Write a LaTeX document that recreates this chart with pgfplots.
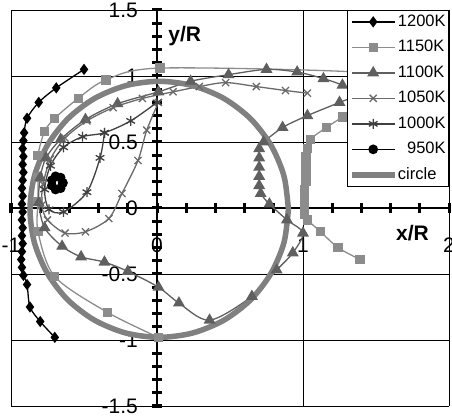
\documentclass[border=0pt]{standalone}
\usepackage{fontspec}
\setmainfont{Liberation Sans}
\usepackage{pgfplots}
\pgfplotsset{compat=1.18}
\definecolor{cA}{HTML}{8C8C8C}
\definecolor{cB}{HTML}{5F5F5F}
\definecolor{cC}{HTML}{6A6A6A}
\definecolor{cD}{HTML}{404040}
\definecolor{cE}{HTML}{808080}
\begin{document}
\begin{tikzpicture}
\useasboundingbox (0,0) rectangle (452bp,420bp);
\begin{axis}[
  at={(11bp,14bp)}, anchor=south west,
  scale only axis, width=438bp, height=396bp,
  xmin=-1, xmax=2, ymin=-1.5, ymax=1.5,
  axis lines=middle,
  axis line style={-, line width=2.5bp, black},
  xtick={-1,0,1,2}, ytick={-1.5,-1,-0.5,0,0.5,1,1.5},
  minor x tick num=4, minor y tick num=4,
  tick align=center, major tick length=10bp, minor tick length=10bp,
  tick style={black, line width=3bp},
  grid=major, grid style={black, line width=0.7bp},
  hide obscured x ticks=false, hide obscured y ticks=false,
  /pgf/number format/assume math mode=true,
  tick label style={font=\fontsize{21bp}{21bp}\selectfont},
  xticklabel style={anchor=center, inner sep=0pt, yshift=-32bp},
  yticklabel style={anchor=east, inner sep=0pt, xshift=-14bp},
  legend style={at={(rel axis cs:1,1)}, anchor=north east, draw=black, line width=0.7bp, fill=white,
    font=\fontsize{16.5bp}{16.5bp}\selectfont, inner xsep=2bp, inner ysep=3bp, row sep=8.5bp,
    nodes={text height=12bp, text depth=3bp, inner ysep=1bp, inner xsep=1bp}},
  legend cell align=left,
  legend image code/.code={\draw[mark repeat=2,mark phase=2,#1] plot coordinates {(0bp,0bp) (21bp,0bp) (42bp,0bp)};},
  every axis plot/.append style={line width=1.3bp, smooth, mark options={solid}},
]
\addplot[black, mark=diamond*, mark size=4.6bp] coordinates {
(-0.50,1.05) (-0.69,0.91) (-0.81,0.80) (-0.89,0.68) (-0.91,0.57) (-0.915,0.51) (-0.92,0.45) (-0.915,0.39)
(-0.92,0.33) (-0.915,0.27) (-0.92,0.21) (-0.925,0.15) (-0.92,0.09) (-0.925,0.03) (-0.92,-0.03) (-0.925,-0.09)
(-0.92,-0.15) (-0.925,-0.21) (-0.92,-0.27) (-0.925,-0.33) (-0.93,-0.39) (-0.925,-0.45) (-0.915,-0.51)
(-0.89,-0.58) (-0.87,-0.75) (-0.80,-0.86) (-0.70,-0.98)};
\addlegendentry{1200K}
\addplot[cA, mark=square*, mark size=4bp] coordinates {
(1.39,-0.39) (1.24,-0.30) (1.12,-0.18) (1.03,-0.09) (1.01,-0.05) (1.01,0.01) (1.01,0.08) (1.01,0.14)
(1.02,0.20) (1.02,0.27) (1.02,0.33) (1.02,0.39) (1.03,0.45) (1.05,0.52) (1.16,0.61) (1.27,0.69)
(1.40,0.80) (1.43,0.95) (1.36,1.03) (0.02,1.06) (-0.35,0.97) (-0.54,0.83) (-0.70,0.68) (-0.77,0.58)
(-0.815,0.40) (-0.815,0.23) (-0.815,0.05) (-0.815,-0.18) (-0.70,-0.52) (-0.34,-0.79) (0.01,-0.98)};
\addlegendentry{1150K}
\addplot[cB, mark=triangle*, mark size=5.6bp] coordinates {
(0.70,0.45) (0.70,0.38) (0.70,0.31) (0.70,0.24) (0.70,0.17) (0.71,0.11) (0.77,0.03) (0.89,-0.09)
(1.00,-0.19) (0.93,-0.34) (0.82,-0.47) (0.65,-0.67) (0.36,-0.85) (0.15,-0.72) (0.01,-0.60) (-0.20,-0.48)
(-0.36,-0.41) (-0.52,-0.37) (-0.65,-0.29) (-0.77,-0.15) (-0.81,0.04) (-0.80,0.23) (-0.76,0.38) (-0.66,0.52)
(-0.49,0.67) (-0.27,0.79) (0.01,0.88) (0.23,0.96) (0.49,1.01) (0.75,1.05) (0.96,1.03) (1.14,0.98)
(1.27,0.93) (1.37,0.86) (1.25,0.80) (1.03,0.70) (0.86,0.61) (0.73,0.50)};
\addlegendentry{1100K}
\addplot[cC, mark=x, mark size=5bp] coordinates {
(1.03,0.87) (0.88,0.89) (0.68,0.92) (0.47,0.95) (0.29,0.92) (0.11,0.88) (-0.10,0.83) (-0.30,0.76)
(-0.48,0.66) (-0.63,0.53) (-0.73,0.37) (-0.78,0.18) (-0.79,0.02) (-0.75,-0.09) (-0.63,-0.19) (-0.49,-0.18)
(-0.33,-0.08) (-0.24,0.11) (-0.13,0.36) (-0.07,0.59) (0.01,0.80)};
\addlegendentry{1050K}
\addplot[cD, mark=asterisk, mark size=5bp] coordinates {
(0.00,0.80) (-0.18,0.66) (-0.36,0.57) (-0.51,0.54) (-0.64,0.46) (-0.73,0.32) (-0.77,0.14) (-0.74,-0.01)
(-0.64,-0.03) (-0.48,0.12) (-0.39,0.38) (-0.36,0.57)};
\addlegendentry{1000K}
\addplot[black, mark=*, mark size=4.2bp] coordinates {
(-0.645,0.19) (-0.66,0.23) (-0.695,0.24) (-0.72,0.21) (-0.72,0.17) (-0.695,0.14) (-0.66,0.15) (-0.645,0.19)};
\addlegendentry{\phantom{1}950K}
\addplot[cE, line width=5.5bp, no marks] coordinates {
(0.90,-0.01) (0.870,0.241) (0.781,0.475) (0.641,0.676) (0.458,0.830) (0.244,0.927) (0.015,0.96)
(-0.214,0.927) (-0.428,0.830) (-0.611,0.676) (-0.751,0.475) (-0.840,0.241) (-0.87,-0.01)
(-0.840,-0.261) (-0.751,-0.495) (-0.611,-0.696) (-0.428,-0.850) (-0.214,-0.947) (0.015,-0.98)
(0.244,-0.947) (0.458,-0.850) (0.641,-0.696) (0.781,-0.495) (0.870,-0.261) (0.90,-0.01)};
\addlegendentry{circle}
\node[font=\fontsize{21bp}{21bp}\selectfont\bfseries] at (axis cs:0.19,1.30) {y/R};
\node[font=\fontsize{21bp}{21bp}\selectfont\bfseries] at (axis cs:1.75,-0.19) {x/R};
\end{axis}
\end{tikzpicture}
\end{document}
